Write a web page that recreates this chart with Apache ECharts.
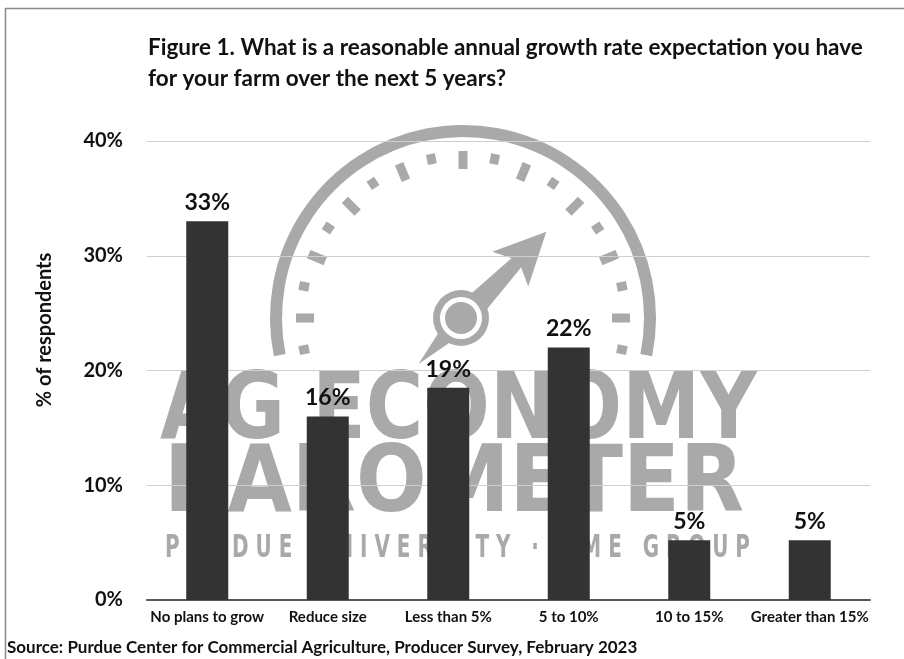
<!DOCTYPE html>
<html>
<head>
<meta charset="utf-8">
<script src="https://cdn.jsdelivr.net/npm/echarts@6/dist/echarts.min.js"></script>
<style>
html,body{margin:0;padding:0;background:#fff;}
#chart{width:904px;height:659px;}
</style>
</head>
<body>
<div id="chart"></div>
<script>
// ---- data ----
var categories = ['No plans to grow', 'Reduce size', 'Less than 5%', '5 to 10%', '10 to 15%', 'Greater than 15%'];
var values = [33, 16, 18.5, 22, 5.2, 5.2];
var valueLabels = ['33%', '16%', '19%', '22%', '5%', '5%'];
var yTicks = [0, 10, 20, 30, 40];
var titleText = 'Figure 1. What is a reasonable annual growth rate expectation you have\nfor your farm over the next 5 years?';
var sourceText = 'Source: Purdue Center for Commercial Agriculture, Producer Survey, February 2023';
var yAxisName = '% of respondents';

var FONT = 'Lato, "Open Sans", sans-serif';
var WM = '#a9a9a9';

// text width helper for watermark fitting
var _ctx = document.createElement('canvas').getContext('2d');
function scaleToWidth(text, font, target) {
  _ctx.font = font;
  return target / _ctx.measureText(text).width;
}

// ---- watermark (decorative gauge logo) ----
var wm = [];
var cx = 463, cy = 318;
wm.push({type: 'arc', shape: {cx: cx, cy: cy, r: 187, startAngle: Math.PI - 0.2, endAngle: 0.2, clockwise: true},
  style: {stroke: WM, lineWidth: 12, fill: null}, silent: true});
for (var k = -1; k <= 17; k++) {
  var a = (180 - 11.25 * k) * Math.PI / 180;
  var long = (k % 2 === 0);
  var r1 = long ? 149 : 157, r2 = 167;
  var rm = (r1 + r2) / 2, len = r2 - r1;
  wm.push({type: 'rect', shape: {x: -len / 2, y: -4.5, width: len, height: 9},
    x: cx + Math.cos(a) * rm, y: cy - Math.sin(a) * rm, rotation: a,
    style: {fill: WM}, silent: true});
}
// needle
var na = 46 * Math.PI / 180;
function P(d, o) {
  return [cx + Math.cos(na) * d - Math.sin(na) * o, cy - Math.sin(na) * d - Math.cos(na) * o];
}
wm.push({type: 'polygon', shape: {points: [P(-64, 0), P(0, 13), P(85, 6), P(85, -6), P(0, -13)]}, style: {fill: WM}, silent: true});
wm.push({type: 'polygon', shape: {points: [P(120, 0), P(68, 25), P(80, 0), P(68, -25)]}, style: {fill: WM}, silent: true});
wm.push({type: 'circle', shape: {cx: cx - 2, cy: cy, r: 28}, style: {fill: WM}, silent: true});
wm.push({type: 'circle', shape: {cx: cx - 2, cy: cy, r: 21}, style: {fill: '#fff'}, silent: true});
wm.push({type: 'circle', shape: {cx: cx - 2, cy: cy, r: 16}, style: {fill: WM}, silent: true});
// logo words
var bigFont = 'bold 92px "DejaVu Sans"';
var s1 = scaleToWidth('AG ECONOMY', bigFont, 597);
var s2 = scaleToWidth('BAROMETER', bigFont, 580);
var smallFont = 'bold 32px "DejaVu Sans"';
var wmSmall = 'P U R D U E   U N I V E R S I T Y   ·   C M E   G R O U P';
var s3 = scaleToWidth(wmSmall, smallFont, 585);
wm.push({type: 'text', x: 160, y: 414, scaleX: s1, style: {text: 'AG ECONOMY', font: bigFont, fill: WM, verticalAlign: 'middle', align: 'left'}, silent: true});
wm.push({type: 'text', x: 164, y: 487, scaleX: s2, style: {text: 'BAROMETER', font: bigFont, fill: WM, verticalAlign: 'middle', align: 'left'}, silent: true});
wm.push({type: 'text', x: 165, y: 549, scaleX: s3, style: {text: wmSmall, font: smallFont, fill: WM, verticalAlign: 'middle', align: 'left'}, silent: true});

var chart = echarts.init(document.getElementById('chart'), null, {renderer: 'canvas'});
chart.setOption({
  backgroundColor: '#fff',
  animation: false,
  title: {
    text: titleText, left: 143, top: 27,
    textStyle: {fontFamily: FONT, fontWeight: 'bold', fontSize: 22.5, lineHeight: 31, color: '#111'}
  },
  graphic: [
    {type: 'group', z: -10, silent: true, children: wm},
    {type: 'line', shape: {x1: 5, y1: 8.5, x2: 904, y2: 8.5}, style: {stroke: '#888', lineWidth: 1.5}, silent: true},
    {type: 'line', shape: {x1: 5.5, y1: 8, x2: 5.5, y2: 659}, style: {stroke: '#888', lineWidth: 1.5}, silent: true},
    {type: 'text', x: 45, y: 330, rotation: Math.PI / 2, style: {text: yAxisName, font: 'bold 20px ' + FONT, fill: '#111', align: 'center', verticalAlign: 'middle'}, silent: true},
    {type: 'text', x: 7, y: 648, style: {text: sourceText, font: 'bold 17px ' + FONT, fill: '#111', align: 'left', verticalAlign: 'middle'}, silent: true}
  ],
  grid: {left: 147, right: 34, top: 141, bottom: 59, containLabel: false},
  xAxis: {
    type: 'category', data: categories,
    axisLine: {show: true, lineStyle: {color: '#555', width: 2}},
    axisTick: {show: false},
    axisLabel: {interval: 0, margin: 10, color: '#111', fontFamily: FONT, fontWeight: 'bold', fontSize: 15}
  },
  yAxis: {
    type: 'value', min: yTicks[0], max: yTicks[yTicks.length - 1], interval: 10,
    axisLine: {show: false}, axisTick: {show: false},
    splitLine: {lineStyle: {color: '#cfcfcf', width: 1.2}},
    axisLabel: {margin: 24, color: '#111', fontFamily: FONT, fontWeight: 'bold', fontSize: 20, formatter: function (v) { return v + '%'; }}
  },
  series: [{
    type: 'bar', data: values, barWidth: 42, z: 5,
    itemStyle: {color: '#333333'},
    label: {show: true, position: 'top', distance: 7, color: '#111', fontFamily: FONT, fontWeight: 'bold', fontSize: 23,
      formatter: function (p) { return valueLabels[p.dataIndex]; }}
  }]
});
</script>
</body>
</html>
